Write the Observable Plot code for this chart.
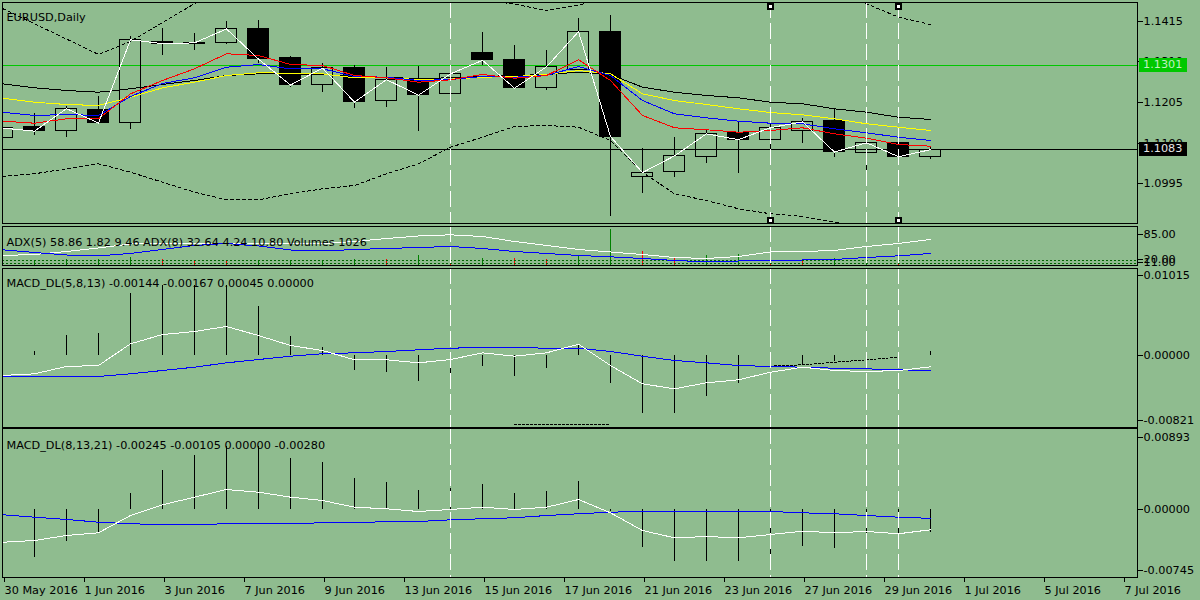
<!DOCTYPE html>
<html><head><meta charset="utf-8">
<script src="https://cdn.jsdelivr.net/npm/d3@7"></script>
<script src="https://cdn.jsdelivr.net/npm/@observablehq/plot@0.6"></script>
<style>
html,body{margin:0;padding:0;background:#8fbc8f;}
#root{position:relative;width:1200px;height:600px;overflow:hidden;background:#8fbc8f;}
.plabel{position:absolute;font:11.25px "DejaVu Sans";line-height:14px;height:14px;width:48px;padding-left:4px;box-sizing:border-box;white-space:nowrap;}
</style></head><body><div id="root"></div>
<script>
// ---------- Main chart (EURUSD, Daily) ----------
const open  = [1.1114,1.1141,1.1132,1.1186,1.1152,1.1361,1.1357,1.1358,1.1396,1.1319,1.1251,1.1293,1.1210,1.1264,1.1228,1.1334,1.1316,1.1242,1.1288,1.1388,1.1013,1.1025,1.1065,1.1127,1.1109,1.1132,1.1157,1.1074,1.1101,1.1065];
const high  = [1.1150,1.1176,1.1195,1.1221,1.1376,1.1395,1.1384,1.1414,1.1417,1.1324,1.1305,1.1301,1.1296,1.1298,1.1296,1.1386,1.1352,1.1339,1.1423,1.1430,1.1086,1.1115,1.1133,1.1154,1.1176,1.1163,1.1188,1.1115,1.1107,1.1090];
const low   = [1.1105,1.1120,1.1114,1.1150,1.1136,1.1326,1.1339,1.1355,1.1307,1.1245,1.1232,1.1189,1.1191,1.1131,1.1223,1.1301,1.1240,1.1236,1.1286,1.0911,1.0971,1.1010,1.1048,1.1022,1.1073,1.1098,1.1064,1.1028,1.1057,1.1059];
const close = [1.1139,1.1131,1.1189,1.1152,1.1367,1.1357,1.1359,1.1395,1.1317,1.1250,1.1294,1.1206,1.1264,1.1224,1.1279,1.1314,1.1242,1.1297,1.1388,1.1117,1.1024,1.1067,1.1124,1.1109,1.1140,1.1155,1.1077,1.1101,1.1065,1.1083];
const maRed    = [1.11567,1.11515,1.11629,1.11629,1.12274,1.12618,1.1292,1.13308,1.13264,1.13031,1.13006,1.12747,1.12688,1.12574,1.12636,1.12773,1.12677,1.12747,1.13153,1.12618,1.11714,1.11396,1.11345,1.11282,1.11326,1.11396,1.11241,1.11128,1.10965,1.10921];
const maBlue   = [1.11799,1.11714,1.1174,1.11714,1.12205,1.12541,1.12688,1.12962,1.13031,1.1292,1.1292,1.12721,1.12703,1.12618,1.12644,1.12721,1.12703,1.12747,1.1298,1.12747,1.12101,1.11758,1.11654,1.11567,1.11515,1.115,1.1137,1.11267,1.11153,1.11068];
const maYellow = [1.12161,1.12057,1.11998,1.11972,1.12187,1.12429,1.12574,1.12747,1.12817,1.12807,1.12791,1.12688,1.12688,1.12644,1.12652,1.12703,1.12721,1.12773,1.12876,1.12791,1.12274,1.12101,1.11998,1.11887,1.11791,1.11732,1.11629,1.115,1.11412,1.11326];
const maBlack  = [1.12533,1.12429,1.1236,1.12316,1.12404,1.12515,1.12618,1.12747,1.12791,1.12791,1.12773,1.12734,1.12696,1.1267,1.12688,1.12721,1.12747,1.12773,1.12832,1.12773,1.12445,1.12316,1.12231,1.12171,1.12057,1.12016,1.11887,1.11799,1.1167,1.11611];
const bandUp   = [1.14478,1.14083,1.13688,1.1329,1.13628,1.14116,1.14602,1.1490,1.1505,1.1510,1.1505,1.1500,1.1490,1.1485,1.1480,1.1470,1.14589,1.14426,1.14563,1.1480,1.1530,1.1560,1.1570,1.1560,1.1540,1.1520,1.1490,1.14599,1.14253,1.14065];
const bandLow  = [1.10138,1.10208,1.10337,1.10466,1.10249,1.09991,1.09733,1.09536,1.09536,1.09691,1.0982,1.09906,1.10208,1.10466,1.10895,1.11153,1.1143,1.11456,1.11412,1.11068,1.10249,1.09691,1.09518,1.09304,1.09175,1.09105,1.08958,1.0885,1.0877,1.0872];
const levelPrice = 1.1301;
const mainTicks = [1.1415, 1.1310, 1.1205, 1.1100, 1.0995];
const mainTitle = "EURUSD,Daily";

// ---------- ADX / Volumes panel ----------
const adxA = [29.6,32.2,40,49.1,59.5,60.8,60.8,60.8,60.8,60.8,60.8,66,73.8,80.3,83.4,79,66,55.6,45.2,38.7,32.2,24.4,21.8,27,38.7,40,42.6,53,60.8,71.2];
const adxB = [44.4,37.4,30.9,28.8,34.8,45.2,55.6,60.8,54.3,43.9,41.3,45.2,47.8,50.4,53,47.8,40,34.8,29.6,26.2,21.8,16.6,13.2,15.3,15.8,17.9,19.2,24.4,28.8,34.8];
const volumes = [null,14800,25200,25200,32000,25200,18800,18800,21200,14800,21200,25200,25200,41200,32000,28000,28000,25200,38800,145200,54800,32000,38800,45200,38800,18800,28000,38800,28000,1026];
const volDir = ["","up","up","up","up","down","down","down","up","up","up","up","down","up","down","up","down","down","up","up","down","down","up","up","down","down","up","up","down","down"];
const adxLevels = [16, 8];
const adxTicks = [85, 20, 11];
const adxTitle = "ADX(5) 58.86 1.82 9.46 ADX(8) 32.64 4.24 10.80 Volumes 1026";

// ---------- MACD_DL(5,8,13) ----------
const m1Hist   = [null,0.0005,0.0025,0.00275,0.0078,0.0089,0.0089,0.0089,0.0062,0.0024,0.00105,-0.0019,-0.0022,-0.0033,-0.0026,-0.00135,-0.0026,-0.0016,0.00135,-0.0035,-0.0074,-0.0073,-0.0052,-0.0036,-0.0017,-0.0012,-0.0008,-0.0005,-0.0002,0.00045];
const m1Main   = [-0.00253,-0.00232,-0.00139,-0.00127,0.00148,0.00266,0.00304,0.00368,0.00253,0.00127,0.00063,-0.00054,-0.00054,-0.00093,-0.00051,0.00034,-0.00009,0.00034,0.00143,-0.00127,-0.00359,-0.00422,-0.00346,-0.00308,-0.00212,-0.00148,-0.0019,-0.00203,-0.0019,-0.00144];
const m1Signal = [-0.00262,-0.00266,-0.00266,-0.00266,-0.00232,-0.0019,-0.00148,-0.00093,-0.00051,-0.00009,0.00022,0.00034,0.00051,0.00072,0.00093,0.00101,0.00101,0.00093,0.00093,0.00051,-0.00009,-0.00063,-0.00093,-0.00127,-0.00139,-0.00148,-0.00161,-0.00169,-0.00181,-0.0019];
const m1Extra  = [null,null,null,null,null,null,null,null,null,null,null,null,null,null,null,null,-0.0088,-0.0088,-0.0088,-0.0088,null,null,null,null,-0.00135,-0.00118,-0.00085,-0.00055,-0.00021,null];
const m1Ticks = [0.01015, 0, -0.00821];
const m1Title = "MACD_DL(5,8,13) -0.00144 -0.00167 0.00045 0.00000";

// ---------- MACD_DL(8,13,21) ----------
const m2Hist   = [null,-0.0058,-0.00385,-0.00275,0.00196,0.0048,0.0067,0.0078,0.0078,0.0063,0.0058,0.0039,0.0034,0.0024,0.0026,0.0031,0.002,0.0022,0.0035,-0.0002,-0.0046,-0.0064,-0.0063,-0.0063,-0.0055,-0.0045,-0.0047,-0.004,-0.004,-0.0028];
const m2Main   = [-0.00398,-0.00377,-0.00315,-0.00282,-0.0007,0.00061,0.00155,0.00249,0.00216,0.00155,0.00114,0.00032,0.00012,-0.00021,0.00004,0.00032,0.00004,0.00032,0.00126,-0.00037,-0.00254,-0.00344,-0.00328,-0.00344,-0.00303,-0.00263,-0.00282,-0.00266,-0.00294,-0.00245];
const m2Signal = [-0.00061,-0.00091,-0.00119,-0.00152,-0.00172,-0.0018,-0.0018,-0.00172,-0.00172,-0.00168,-0.0016,-0.0016,-0.00144,-0.00144,-0.00123,-0.0011,-0.00098,-0.0007,-0.00049,-0.00029,-0.00021,-0.00021,-0.00021,-0.00021,-0.00021,-0.00037,-0.00049,-0.0007,-0.00091,-0.00105];
const m2Ticks = [0.00893, 0, -0.00745];
const m2Title = "MACD_DL(8,13,21) -0.00245 -0.00105 0.00000 -0.00280";

// ---------- Time axis & objects ----------
const xTickLabels = ["30 May 2016","1 Jun 2016","3 Jun 2016","7 Jun 2016","9 Jun 2016","13 Jun 2016","15 Jun 2016","17 Jun 2016","21 Jun 2016","23 Jun 2016","27 Jun 2016","29 Jun 2016","1 Jul 2016","5 Jul 2016","7 Jul 2016"];
const barsPerLabel = 2.5;
const vLines = [14, 24, 27, 28];
const handles = [24, 28];

// ---------- Layout ----------
const root = document.getElementById("root");
const W = 1200, ML = 2, MR = 63;
const xDomain = [0, 35.469];
const style = {fontFamily: "DejaVu Sans", fontSize: "11.25px", background: "transparent", overflow: "visible", color: "black"};
const dash = {stroke: "white", strokeWidth: 1, strokeDasharray: "16,5"};
const L = {strokeWidth: 1, clip: true};
function place(svg, top) {
  svg.style.position = "absolute"; svg.style.left = "0px"; svg.style.top = top + "px";
  svg.style.shapeRendering = "crispEdges";
  root.appendChild(svg); return svg;
}
const title = (t, dy) => Plot.text([t], {text: d => d, frameAnchor: "top-left", dx: 4, dy, textAnchor: "start", fill: "black"});
const fmt = n => d => d.toFixed(n);

const bars = open.map((o, i) => ({i, o, h: high[i], l: low[i], c: close[i]}));
const bw = 0.3375;

const main = place(Plot.plot({
  width: W, height: 226, marginLeft: ML, marginRight: MR, marginTop: 2, marginBottom: 3, style,
  x: {domain: xDomain, axis: null},
  y: {domain: [1.08924, 1.14633]},
  marks: [
    Plot.lineY(bandUp, {...L, stroke: "black", strokeDasharray: "3,3"}),
    Plot.lineY(bandLow, {...L, stroke: "black", strokeDasharray: "3,3"}),
    Plot.ruleY([levelPrice], {stroke: "#00c800"}),
    Plot.ruleX(bars, {x: "i", y1: "h", y2: d => Math.max(d.o, d.c), stroke: "black", clip: true}),
    Plot.ruleX(bars, {x: "i", y1: d => Math.min(d.o, d.c), y2: "l", stroke: "black", clip: true}),
    Plot.rect(bars.filter(d => d.c >= d.o), {x1: d => d.i - bw, x2: d => d.i + bw, y1: "o", y2: "c", fill: "none", stroke: "black", clip: true}),
    Plot.rect(bars.filter(d => d.c < d.o), {x1: d => d.i - bw, x2: d => d.i + bw, y1: "o", y2: "c", fill: "black", stroke: "black", clip: true}),
    Plot.ruleY([close[close.length - 1]], {stroke: "black"}),
    Plot.lineY(maBlack, {...L, stroke: "black"}),
    Plot.lineY(maYellow, {...L, stroke: "#ffff00"}),
    Plot.lineY(maBlue, {...L, stroke: "#0000ff"}),
    Plot.lineY(maRed, {...L, stroke: "#ff0000"}),
    Plot.lineY(close, {...L, stroke: "white"}),
    Plot.ruleX(vLines, dash),
    Plot.dot(handles, {x: d => d, frameAnchor: "top", dy: 4, symbol: "square", r: 2.6, fill: "white", stroke: "black"}),
    Plot.dot(handles, {x: d => d, frameAnchor: "bottom", dy: -3, symbol: "square", r: 2.6, fill: "white", stroke: "black"}),
    title(mainTitle, 10),
    Plot.axisY({ticks: mainTicks, anchor: "right", tickSize: 5, tickPadding: 1, tickFormat: fmt(4), label: null}),
    Plot.frame({stroke: "black"})
  ]
}), 0);

// volumes (own scale) under ADX lines
place(Plot.plot({
  width: W, height: 43, marginLeft: ML, marginRight: MR, marginTop: 2, marginBottom: 2, style,
  x: {domain: xDomain, axis: null},
  y: {domain: [0, 156000], axis: null},
  marks: [
    Plot.ruleX(volumes, {x: (d, i) => i, y1: 0, y2: d => d, filter: (d, i) => volDir[i] === "up", stroke: "#008000"}),
    Plot.ruleX(volumes, {x: (d, i) => i, y1: 0, y2: d => d, filter: (d, i) => volDir[i] === "down", stroke: "#ff0000"})
  ]
}), 224);

place(Plot.plot({
  width: W, height: 43, marginLeft: ML, marginRight: MR, marginTop: 2, marginBottom: 2, style,
  x: {domain: xDomain, axis: null},
  y: {domain: [3.6, 105]},
  marks: [
    Plot.ruleY(adxLevels, {stroke: "#006400", strokeDasharray: "2,2"}),
    Plot.lineY(adxA, {...L, stroke: "white"}),
    Plot.lineY(adxB, {...L, stroke: "#0000ff"}),
    Plot.ruleX(vLines, dash),
    title(adxTitle, 11),
    Plot.axisY({ticks: adxTicks, anchor: "right", tickSize: 5, tickPadding: 1, tickFormat: fmt(2), label: null}),
    Plot.frame({stroke: "black"})
  ]
}), 224);

place(Plot.plot({
  width: W, height: 162, marginLeft: ML, marginRight: MR, marginTop: 2, marginBottom: 1, style,
  x: {domain: xDomain, axis: null},
  y: {domain: [-0.009125, 0.011027]},
  marks: [
    Plot.ruleX(m1Hist, {x: (d, i) => i, y1: 0, y2: d => d, stroke: "black"}),
    Plot.lineY(m1Extra, {...L, stroke: "black", strokeDasharray: "2,2"}),
    Plot.lineY(m1Signal, {...L, stroke: "#0000ff"}),
    Plot.lineY(m1Main, {...L, stroke: "white"}),
    Plot.ruleX(vLines, dash),
    title(m1Title, 10),
    Plot.axisY({ticks: m1Ticks, anchor: "right", tickSize: 5, tickPadding: 1, tickFormat: fmt(5), label: null}),
    Plot.frame({stroke: "black"})
  ]
}), 266);

place(Plot.plot({
  width: W, height: 173, marginLeft: ML, marginRight: MR, marginTop: 1, marginBottom: 23, style,
  x: {domain: xDomain},
  y: {domain: [-0.008307, 0.009975]},
  marks: [
    Plot.ruleX(m2Hist, {x: (d, i) => i, y1: 0, y2: d => d, stroke: "black"}),
    Plot.lineY(m2Signal, {...L, stroke: "#0000ff"}),
    Plot.lineY(m2Main, {...L, stroke: "white"}),
    Plot.ruleX(vLines, dash),
    title(m2Title, 12),
    Plot.axisY({ticks: m2Ticks, anchor: "right", tickSize: 5, tickPadding: 1, tickFormat: fmt(5), label: null}),
    Plot.axisX({ticks: xTickLabels.map((_, k) => k * barsPerLabel), tickFormat: d => xTickLabels[Math.round(d / barsPerLabel)], anchor: "bottom", tickSize: 5, tickPadding: 3, textAnchor: "start", dx: 2, label: null}),
    Plot.frame({stroke: "black"})
  ]
}), 427);

// price labels on the right axis, positioned from the main y scale
const ys = main.scale("y");
function priceLabel(v, bgc, fg) {
  const d = document.createElement("div");
  d.className = "plabel";
  d.style.left = "1139px";
  d.style.top = (ys.apply(v) - 7) + "px";
  d.style.background = bgc; d.style.color = fg;
  d.textContent = v.toFixed(4);
  root.appendChild(d);
}
priceLabel(levelPrice, "#00c800", "#c0f0c0");
priceLabel(close[close.length - 1], "#000000", "#e6e6e6");
</script></body></html>
